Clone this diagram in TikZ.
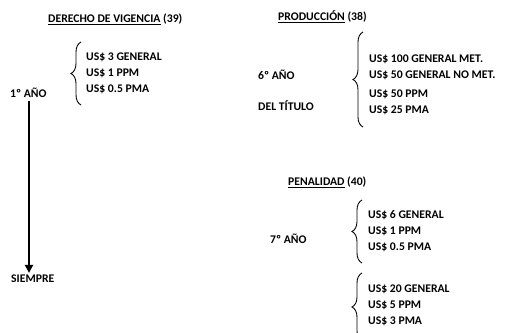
\documentclass[tikz,border=0pt]{standalone}
\usepackage{fontspec}
\setmainfont{Carlito}
\usetikzlibrary{positioning,arrows.meta,decorations.pathreplacing}
\tikzstyle{txt}   = [font=\bfseries\fontsize{11.7}{16}\selectfont, inner sep=0pt, anchor=west]
\tikzstyle{lst}   = [txt, align=left]
\tikzstyle{brc}   = [draw, line width=0.9pt, decorate, decoration={brace, amplitude=10pt}]
\tikzstyle{arrow} = [line width=2.2pt, -{Triangle[width=8pt,length=8pt]}]

\begin{document}
\begin{tikzpicture}[x=1pt, y=-1pt]
		\clip (0,0) rectangle (506,332);
		% derecho de vigencia
		\node[txt] (vig) at (48,19) {\underline{DERECHO DE VIGENCIA} (39)};
		\node[lst] (vigl) at (86,73) {US\$ 3 GENERAL\\US\$ 1 PPM\\US\$ 0.5 PMA};
		\node[txt] (y1) at (10,93) {1º AÑO};
		\node[txt] (siempre) at (11,279) {SIEMPRE};
		\draw[brc] (81,105) -- (81,42);
		\draw[arrow, shorten <=3pt, shorten >=2pt] (y1.south -| 29,0) -- (siempre.north -| 29,0);

		% produccion
		\node[txt] (prod) at (278,17) {\underline{PRODUCCIÓN} (38)};
		\node[txt] (y6) at (258,75) {6º AÑO};
		\node[txt, below=31pt of y6.west, anchor=west] (tit) {DEL TÍTULO};
		\node[lst] (prodl) at (369,85) {US\$ 100 GENERAL MET.\\US\$ 50 GENERAL NO MET.\\[3pt]US\$ 50 PPM\\US\$ 25 PMA};
		\draw[brc] (363,127) -- (363,32);

		% penalidad
		\node[txt] (pen) at (288,182) {\underline{PENALIDAD} (40)};
		\node[txt] (y7) at (270,239) {7º AÑO};
		\node[lst] (penl) at (368,231) {US\$ 6 GENERAL\\US\$ 1 PPM\\US\$ 0.5 PMA};
		\draw[brc] (362,263) -- (362,200);
		\node[lst] (penm) at (368,305) {US\$ 20 GENERAL\\US\$ 5 PPM\\US\$ 3 PMA};
		\draw[brc] (362,341) -- (362,273);
\end{tikzpicture}
\end{document}
